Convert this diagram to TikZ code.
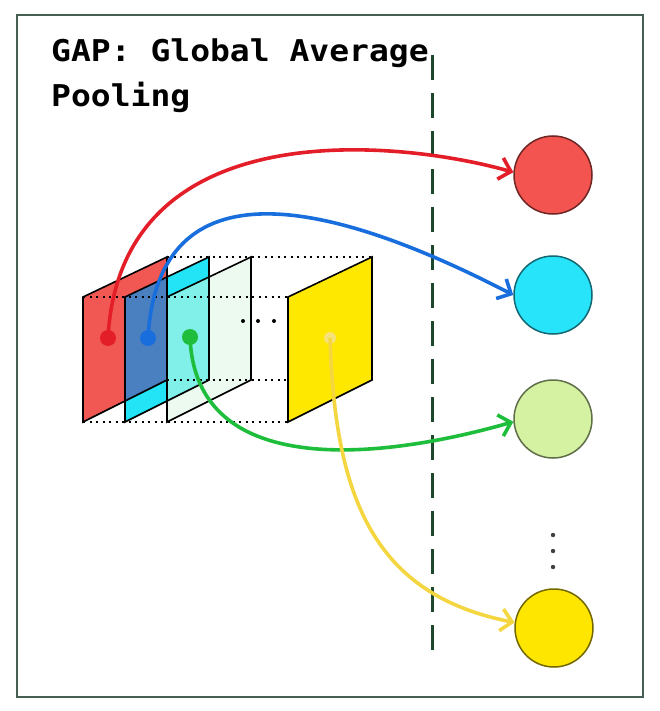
\documentclass[tikz,border=0pt]{standalone}
\usepackage{fontspec}
\usetikzlibrary{arrows.meta,positioning}
\newfontfamily\gapfont[FakeStretch=1.1]{DejaVu Sans Mono}

\definecolor{framecol}{RGB}{70,96,84}
\definecolor{dashcol}{RGB}{30,72,44}
\definecolor{redmap}{RGB}{241,88,84}
\definecolor{cyanmap}{RGB}{34,228,246}
\definecolor{bluemap}{RGB}{74,128,192}
\definecolor{greenmap}{RGB}{236,250,240}
\definecolor{aquamap}{RGB}{128,240,232}
\definecolor{yellowmap}{RGB}{255,232,0}
\definecolor{redline}{RGB}{228,30,40}
\definecolor{blueline}{RGB}{24,110,220}
\definecolor{greenline}{RGB}{30,190,60}
\definecolor{yellowline}{RGB}{244,214,64}
\definecolor{redout}{RGB}{244,84,80}
\definecolor{cyanout}{RGB}{40,228,250}
\definecolor{greenout}{RGB}{212,242,162}
\definecolor{yellowout}{RGB}{255,230,0}

\begin{document}
\begin{tikzpicture}[
    x=1pt, y=-1pt,
    every node/.style={inner sep=0pt},
    outnode/.style={circle, draw=#1!45!black, fill=#1, line width=1.5pt, minimum size=78pt},
    srcdot/.style={circle, fill=#1, minimum size=16pt},
    plane/.style={draw=black, line width=1.6pt},
    grid/.style={line width=2pt, dash pattern=on 2pt off 4.5pt},
    link/.style={line width=3.6pt, -{Straight Barb[length=11pt,width=22pt]}}
]
\useasboundingbox (0,0) rectangle (659,711);
\draw[framecol, line width=2pt] (17,15) rectangle (643,697);

% title
\node[anchor=north west, align=left, font=\gapfont\bfseries\fontsize{30}{45}\selectfont] (title) at (51,39) {GAP: Global Average\\Pooling};

% separator
\draw[dashcol, line width=3pt, dash pattern=on 25pt off 13pt] (432,55) -- (432,662);

% feature maps
\fill[redmap] (83,297) -- ++(0,125) -- ++(84,-42) -- ++(0,-123) -- cycle;
\fill[cyanmap] (125,297) -- ++(0,125) -- ++(84,-42) -- ++(0,-123) -- cycle;
\begin{scope}
  \clip (83,297) -- ++(0,125) -- ++(84,-42) -- ++(0,-123) -- cycle;
  \fill[bluemap] (125,297) -- ++(0,125) -- ++(84,-42) -- ++(0,-123) -- cycle;
\end{scope}
\fill[greenmap] (167,297) -- ++(0,125) -- ++(84,-42) -- ++(0,-123) -- cycle;
\begin{scope}
  \clip (125,297) -- ++(0,125) -- ++(84,-42) -- ++(0,-123) -- cycle;
  \fill[aquamap] (167,297) -- ++(0,125) -- ++(84,-42) -- ++(0,-123) -- cycle;
\end{scope}
\foreach \x in {83,125,167}
  \draw[plane] (\x,297) -- ++(0,125) -- ++(84,-42) -- ++(0,-123) -- cycle;

\draw[grid] (83,297) -- (288,297);
\draw[grid] (83,422) -- (288,422);
\draw[grid] (167,257) -- (372,257);
\draw[grid] (167,380) -- (288,380);
\foreach \x in {243,258,274}
  \fill (\x,321) circle (2pt);

\draw[plane, fill=yellowmap] (288,297) -- ++(0,125) -- ++(84,-42) -- ++(0,-123) -- cycle;

% pooled outputs
\node[outnode=redout] (out1) at (553,175) {};
\node[outnode=cyanout] (out2) at (553,295) {};
\node[outnode=greenout] (out3) at (553,419) {};
\node[outnode=yellowout] (out4) at (554,628) {};
\foreach \y in {535,551,567}
  \fill[black!75] (553,\y) circle (2.2pt);

% sources
\node[srcdot=redline] (src1) at (108,338) {};
\node[srcdot=blueline] (src2) at (148,338) {};
\node[srcdot=greenline] (src3) at (190,337) {};
\node[srcdot=yellowline!70, minimum size=12pt] (src4) at (330,338) {};

\draw[link, redline] (src1.center) .. controls (120,110) and (400,140) .. (out1.176);
\draw[link, blueline] (src2.center) .. controls (158,160) and (330,200) .. (out2.180);
\draw[link, greenline] (src3.center) .. controls (195,480) and (380,460) .. (out3.184);
\draw[link, yellowline] (src4.center) .. controls (335,500) and (375,595) .. (out4.172);
\end{tikzpicture}
\end{document}
